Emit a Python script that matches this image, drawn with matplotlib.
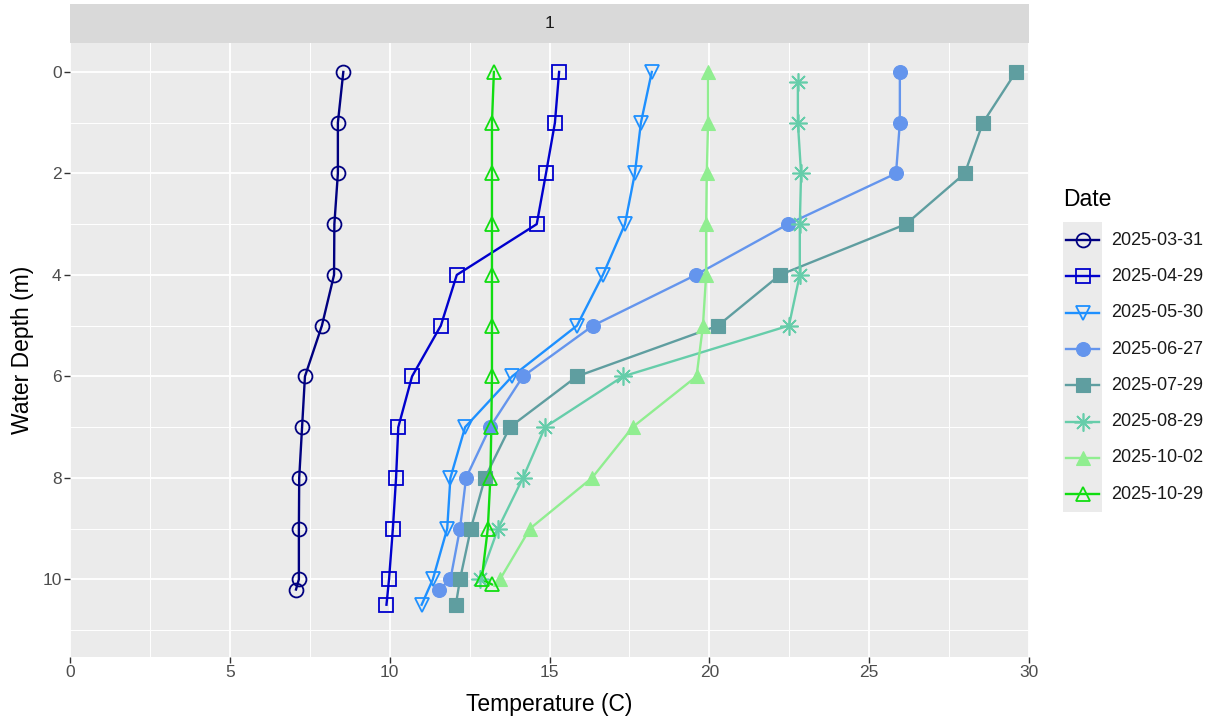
import matplotlib
matplotlib.use("Agg")
import matplotlib.pyplot as plt
from matplotlib.lines import Line2D
from matplotlib.patches import Rectangle

plt.rcParams['font.family'] = ['Liberation Sans', 'DejaVu Sans']

dates = ["2025-03-31", "2025-04-29", "2025-05-30", "2025-06-27",
         "2025-07-29", "2025-08-29", "2025-10-02", "2025-10-29"]

depth_0331 = [0, 1, 2, 3, 4, 5, 6, 7, 8, 9, 10, 10.2]
temp_0331 = [8.55, 8.38, 8.38, 8.27, 8.26, 7.88, 7.35, 7.26, 7.17, 7.16, 7.16, 7.07]

depth_0429 = [0, 1, 2, 3, 4, 5, 6, 7, 8, 9, 10, 10.5]
temp_0429 = [15.3, 15.17, 14.89, 14.6, 12.1, 11.6, 10.7, 10.27, 10.2, 10.1, 9.98, 9.9]

depth_0530 = [0, 1, 2, 3, 4, 5, 6, 7, 8, 9, 10, 10.5]
temp_0530 = [18.2, 17.86, 17.67, 17.36, 16.67, 15.86, 13.83, 12.36, 11.9, 11.8, 11.35, 11.0]

depth_0627 = [0, 1, 2, 3, 4, 5, 6, 7, 8, 9, 10, 10.2]
temp_0627 = [25.96, 25.96, 25.84, 22.46, 19.58, 16.36, 14.17, 13.14, 12.39, 12.2, 11.9, 11.55]

depth_0729 = [0, 1, 2, 3, 4, 5, 6, 7, 8, 9, 10, 10.5]
temp_0729 = [29.59, 28.56, 27.99, 26.15, 22.21, 20.27, 15.86, 13.76, 12.98, 12.54, 12.2, 12.07]

depth_0829 = [0.2, 1, 2, 3, 4, 5, 6, 7, 8, 9, 10]
temp_0829 = [22.77, 22.77, 22.87, 22.83, 22.83, 22.49, 17.3, 14.86, 14.17, 13.39, 12.82]

depth_1002 = [0, 1, 2, 3, 4, 5, 6, 7, 8, 9, 10]
temp_1002 = [19.96, 19.96, 19.92, 19.9, 19.9, 19.8, 19.6, 17.6, 16.33, 14.39, 13.45]

depth_1029 = [0, 1, 2, 3, 4, 5, 6, 7, 8, 9, 10, 10.1]
temp_1029 = [13.26, 13.2, 13.2, 13.2, 13.2, 13.2, 13.2, 13.18, 13.15, 13.07, 12.88, 13.2]

facet_label = "1"

series = [
    (temp_0331, depth_0331, "#000080", "o", "none"),
    (temp_0429, depth_0429, "#0000CD", "s", "none"),
    (temp_0530, depth_0530, "#1E90FF", "v", "none"),
    (temp_0627, depth_0627, "#6495ED", "o", "full"),
    (temp_0729, depth_0729, "#5F9EA0", "s", "full"),
    (temp_0829, depth_0829, "#66CDAA", (8, 2, 0), "ast"),
    (temp_1002, depth_1002, "#90EE90", "^", "full"),
    (temp_1029, depth_1029, "#11DD11", "^", "none"),
]

W, H = 1214, 721
fig = plt.figure(figsize=(W / 100, H / 100), dpi=100)

def fx(px):
    return px / W

def fy(py):
    return 1 - py / H

left, right, top, bottom = 70, 1029, 43, 657
ax = fig.add_axes([fx(left), fy(bottom), fx(right - left), (bottom - top) / H])
ax.set_facecolor("#EBEBEB")
for s in ax.spines.values():
    s.set_visible(False)

ax.set_xlim(0, 30)
ax.set_ylim(11.53, -0.57)
ax.set_xticks([0, 5, 10, 15, 20, 25, 30])
ax.set_xticks([2.5, 7.5, 12.5, 17.5, 22.5, 27.5], minor=True)
ax.set_yticks([0, 2, 4, 6, 8, 10])
ax.set_yticks([1, 3, 5, 7, 9, 11], minor=True)
ax.grid(which="major", color="white", linewidth=1.3)
ax.grid(which="minor", color="white", linewidth=0.7)
ax.set_axisbelow(True)
ax.tick_params(which="major", length=4, width=1, color="#333333",
               labelcolor="#4D4D4D", labelsize=12.5, pad=2)
ax.tick_params(which="minor", length=0)
ax.set_xlabel("Temperature (C)", fontsize=16.5, color="black", labelpad=9)
ax.set_ylabel("Water Depth (m)", fontsize=16.5, color="black", labelpad=6)

ms = 10
for t, d, c, m, f in series:
    ax.plot(t, d, color=c, linewidth=1.7, zorder=2)

def marker_kw(c, m, f):
    kw = dict(marker=m, markersize=ms, linestyle="none")
    if f == "none":
        kw.update(markerfacecolor="none", markeredgecolor=c, markeredgewidth=1.3)
    elif f == "ast":
        kw.update(markerfacecolor=c, markeredgecolor=c, markeredgewidth=1.2, markersize=ms + 3)
    else:
        kw.update(markerfacecolor=c, markeredgecolor=c, markeredgewidth=0.8)
    return kw

for t, d, c, m, f in series:
    ax.plot(t, d, zorder=3, **marker_kw(c, m, f))

# facet strip
sax = fig.add_axes([fx(left), fy(top), fx(right - left), (top - 4) / H])
sax.set_facecolor("#D9D9D9")
sax.set_xticks([])
sax.set_yticks([])
for s in sax.spines.values():
    s.set_visible(False)
sax.text(0.5, 0.5, facet_label, ha="center", va="center", fontsize=12.5, color="#1A1A1A",
         transform=sax.transAxes)

# legend
fig.text(fx(1063), fy(200), "Date", ha="left", va="center", fontsize=16.5, color="black")
key_x0, key_x1 = 1063, 1102
key_top, step = 222, 36.3
fig.add_artist(Rectangle((fx(key_x0), fy(key_top + step * len(dates))), fx(key_x1 - key_x0),
                         step * len(dates) / H, transform=fig.transFigure,
                         facecolor="#EBEBEB", edgecolor="none"))
for i, (lab, (t, d, c, m, f)) in enumerate(zip(dates, series)):
    yc = fy(key_top + step * (i + 0.5))
    fig.add_artist(Line2D([fx(key_x0 + 3), fx(key_x1 - 3)], [yc, yc], color=c,
                          linewidth=1.7, transform=fig.transFigure))
    fig.add_artist(Line2D([fx((key_x0 + key_x1) / 2)], [yc], transform=fig.transFigure,
                          **marker_kw(c, m, f)))
    fig.text(fx(1111), yc, lab, ha="left", va="center", fontsize=13, color="#1A1A1A")

fig.savefig("out.png", dpi=100)
